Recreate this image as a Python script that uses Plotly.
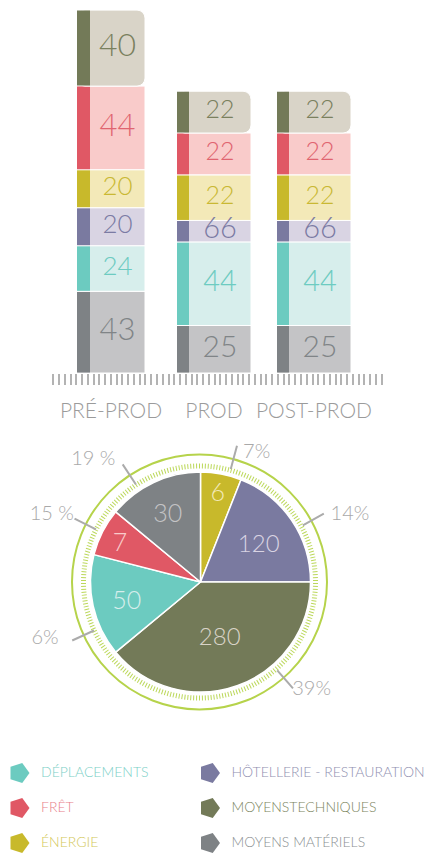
import plotly.graph_objects as go

W, H = 425, 856
FONT = "Lato"

# ---------------- data ----------------
phases = ["PRÉ-PROD", "PROD", "POST-PROD"]
# stacked segments, bottom -> top
seg_names = ["MOYENS MATÉRIELS", "DÉPLACEMENTS", "HÔTELLERIE - RESTAURATION",
             "ÉNERGIE", "FRÊT", "MOYENSTECHNIQUES"]
# printed values
val_materiels = [43, 25, 25]
val_deplacements = [24, 44, 44]
val_hotellerie = [20, 66, 66]
val_energie = [20, 22, 22]
val_fret = [44, 22, 22]
val_techniques = [40, 22, 22]
# drawn heights (as measured on the picture)
h_materiels = [43, 25, 25]
h_deplacements = [24, 44, 44]
h_hotellerie = [20, 11.3, 11.3]
h_energie = [20, 24, 24]
h_fret = [44, 22, 22]
h_techniques = [40, 22, 22]

seg_values = [val_materiels, val_deplacements, val_hotellerie, val_energie, val_fret, val_techniques]
seg_heights = [h_materiels, h_deplacements, h_hotellerie, h_energie, h_fret, h_techniques]

pie_labels = ["ÉNERGIE", "HÔTELLERIE - RESTAURATION", "MOYENSTECHNIQUES",
              "DÉPLACEMENTS", "FRÊT", "MOYENS MATÉRIELS"]
pie_shares = [6, 19, 39, 15, 7, 14]
pie_text = ["6", "120", "280", "50", "7", "30"]
pct_labels = ["7%", "14%", "39%", "6%", "15 %", "19 %"]

legend_order = ["DÉPLACEMENTS", "FRÊT", "ÉNERGIE",
                "HÔTELLERIE - RESTAURATION", "MOYENSTECHNIQUES", "MOYENS MATÉRIELS"]

# ---------------- styles ----------------
dark = {"MOYENS MATÉRIELS": "#7e8285", "DÉPLACEMENTS": "#6ccbc0",
        "HÔTELLERIE - RESTAURATION": "#7a7aa0", "ÉNERGIE": "#c8b92b",
        "FRÊT": "#e05865", "MOYENSTECHNIQUES": "#737a58"}
light = {"MOYENS MATÉRIELS": "#c4c4c6", "DÉPLACEMENTS": "#d7eeec",
         "HÔTELLERIE - RESTAURATION": "#d9d4e3", "ÉNERGIE": "#f3e9b8",
         "FRÊT": "#f9cbca", "MOYENSTECHNIQUES": "#d9d4c8"}
bartext = {"MOYENS MATÉRIELS": "#808487", "DÉPLACEMENTS": "#6dcbc1",
           "HÔTELLERIE - RESTAURATION": "#7b7ba3", "ÉNERGIE": "#c9b833",
           "FRÊT": "#e06470", "MOYENSTECHNIQUES": "#7a805e"}
legtext = {"MOYENS MATÉRIELS": "#8b8f92", "DÉPLACEMENTS": "#7dd0c7",
           "HÔTELLERIE - RESTAURATION": "#8f8fb0", "ÉNERGIE": "#d3c859",
           "FRÊT": "#e8808a", "MOYENSTECHNIQUES": "#7c8560"}
bartext_size = [[31, 30, 30], [26, 29, 29], [26, 29, 29],
                [26, 25, 25], [31, 25, 25], [32, 25, 25]]

PX_PER_UNIT = 1.9
BAR_BOTTOM = 373
bar_x = [111, 214, 314]
bar_w = [68, 74, 74]
strip_w = [13, 12, 12]
GAP = 0.5 / PX_PER_UNIT

X0, X1 = 50, 385

fig = go.Figure()

# ---------------- stacked bars ----------------
base = [0.0, 0.0, 0.0]
tx, ty, tt, tc, ts = [], [], [], [], []
for k, name in enumerate(seg_names):
    hs = seg_heights[k]
    top = (k == len(seg_names) - 1)
    fig.add_trace(go.Bar(
        x=bar_x, y=hs, base=base, width=bar_w,
        marker=dict(color=light[name], line=dict(color="white", width=1),
                    cornerradius=8 if top else 0),
        hoverinfo="skip", showlegend=False, xaxis="x", yaxis="y"))
    fig.add_trace(go.Bar(
        x=[bx - bw / 2 + sw / 2 for bx, bw, sw in zip(bar_x, bar_w, strip_w)],
        y=[h - 2 * GAP for h in hs], base=[b + GAP for b in base], width=strip_w,
        marker=dict(color=dark[name], line=dict(width=0)),
        hoverinfo="skip", showlegend=False, xaxis="x", yaxis="y"))
    for i in range(3):
        tx.append(bar_x[i] + strip_w[i] / 2)
        ty.append(base[i] + hs[i] / 2)
        tt.append(str(seg_values[k][i]))
        tc.append(bartext[name])
        ts.append(bartext_size[k][i])
    base = [b + h for b, h in zip(base, hs)]

fig.add_trace(go.Scatter(x=tx, y=ty, text=tt, mode="text",
                         textfont=dict(family=FONT, size=ts, color=tc, weight=300),
                         hoverinfo="skip", showlegend=False, xaxis="x", yaxis="y"))
# dummy trace for the ruler axis
fig.add_trace(go.Scatter(x=[None], y=[None], xaxis="x2", yaxis="y", showlegend=False,
                         hoverinfo="skip"))

# ---------------- pie ----------------
def dom(cx, cy, r):
    return dict(x=[(cx - r) / W, (cx + r) / W], y=[(H - cy - r) / H, (H - cy + r) / H])

PCX, PCY, PR = 200.5, 582, 110
fig.add_trace(go.Pie(
    labels=pie_labels, values=pie_shares, text=pie_text, textinfo="text",
    textposition="inside", insidetextorientation="horizontal",
    sort=False, direction="clockwise", rotation=0,
    marker=dict(colors=[dark[n] for n in pie_labels], line=dict(color="white", width=1.5)),
    textfont=dict(family=FONT, size=[25, 24, 24, 25, 25, 25],
                  color=[light[n] for n in pie_labels], weight=300),
    domain=dom(PCX, PCY, PR), showlegend=False, hoverinfo="skip"))

# ring ticks and circle
fig.add_trace(go.Scatterpolar(r=[None], theta=[None], subplot="polar", showlegend=False, hoverinfo="skip"))
fig.add_trace(go.Scatterpolar(r=[None], theta=[None], subplot="polar2", showlegend=False, hoverinfo="skip"))

# leader lines and percentage labels
lead_angles = [15, 61, 139, 245.5, 296.7, 326.5]
lab_angles = [23.5, 66, 134.2, 249.9, 294.2, 318.7]
lab_r = [141, 163.6, 155, 165.6, 163, 162.4]
lr, lt = [], []
for a in lead_angles:
    lr += [117, 141, None]
    lt += [a, a, None]
fig.add_trace(go.Scatterpolar(r=lr, theta=lt, mode="lines", subplot="polar3",
                              line=dict(color="#ababab", width=2), showlegend=False,
                              hoverinfo="skip", cliponaxis=False))
fig.add_trace(go.Scatterpolar(r=lab_r, theta=lab_angles, text=pct_labels, mode="text",
                              subplot="polar3", cliponaxis=False,
                              textfont=dict(family=FONT, size=20, color="#a9a9a9", weight=300),
                              showlegend=False, hoverinfo="skip"))

# ---------------- legend block ----------------
col_x = [19, 209.5]
row_y = [773, 808, 843]
lx = [col_x[i // 3] for i in range(len(legend_order))]
ly = [row_y[i % 3] for i in range(len(legend_order))]
fig.add_trace(go.Scatter(x=lx, y=ly, mode="markers", xaxis="x3", yaxis="y3",
                         marker=dict(symbol="pentagon", angle=90, size=21,
                                     color=[dark[n] for n in legend_order], line=dict(width=0)),
                         showlegend=False, hoverinfo="skip"))
fig.add_trace(go.Scatter(x=[x + 22 for x in lx], y=ly, mode="text", text=legend_order,
                         textposition="middle right", xaxis="x3", yaxis="y3",
                         textfont=dict(family=FONT, size=14, weight=300,
                                       color=[legtext[n] for n in legend_order]),
                         showlegend=False, hoverinfo="skip"))

no_axis = dict(showgrid=False, zeroline=False, showline=False, showticklabels=False, ticks="")

fig.update_layout(
    width=W, height=H, margin=dict(l=0, r=0, t=0, b=0),
    paper_bgcolor="white", plot_bgcolor="rgba(0,0,0,0)",
    template="none", barmode="overlay", showlegend=False,
    font=dict(family=FONT),
    xaxis=dict(domain=[X0 / W, X1 / W], range=[X0, X1], tickmode="array",
               tickvals=bar_x, ticktext=phases, ticks="outside", ticklen=19,
               tickcolor="rgba(0,0,0,0)", showgrid=False, zeroline=False, showline=False,
               tickfont=dict(family=FONT, size=21, color="#9b9b9b", weight=300), fixedrange=True),
    xaxis2=dict(overlaying="x", anchor="y", range=[X0, X1], tickmode="linear", tick0=53.3,
                dtick=5.76, ticks="outside", ticklen=11, tickwidth=2, tickcolor="#b3b3b3",
                showticklabels=False, showgrid=False, zeroline=False, showline=False),
    yaxis=dict(domain=[(H - BAR_BOTTOM) / H, 1], range=[0, BAR_BOTTOM / PX_PER_UNIT], **no_axis),
    xaxis3=dict(domain=[0, 1], range=[0, W], anchor="y3", **no_axis),
    yaxis3=dict(domain=[0, 110 / H], range=[H, H - 110], anchor="x3", **no_axis),
    polar=dict(domain=dom(199.5, 582, 113), bgcolor="rgba(0,0,0,0)",
               radialaxis=dict(visible=False),
               angularaxis=dict(rotation=90, direction="clockwise", showline=False,
                                showgrid=False, showticklabels=False, ticks="outside",
                                ticklen=5, tickwidth=1, tickcolor="#bcd85a",
                                tickmode="linear", tick0=0, dtick=1.44)),
    polar2=dict(domain=dom(199.5, 582, 127.5), bgcolor="rgba(0,0,0,0)",
                radialaxis=dict(visible=False),
                angularaxis=dict(showline=True, linecolor="#b6d34b", linewidth=2,
                                 showgrid=False, showticklabels=False, ticks="")),
    polar3=dict(domain=dom(PCX, PCY, 170), bgcolor="rgba(0,0,0,0)",
                radialaxis=dict(visible=False, range=[0, 170]),
                angularaxis=dict(visible=False, rotation=90, direction="clockwise")),
)

fig.write_html("out.html", config={"displayModeBar": False},
               post_script="document.body.style.margin='0';document.body.style.overflow='hidden';")
